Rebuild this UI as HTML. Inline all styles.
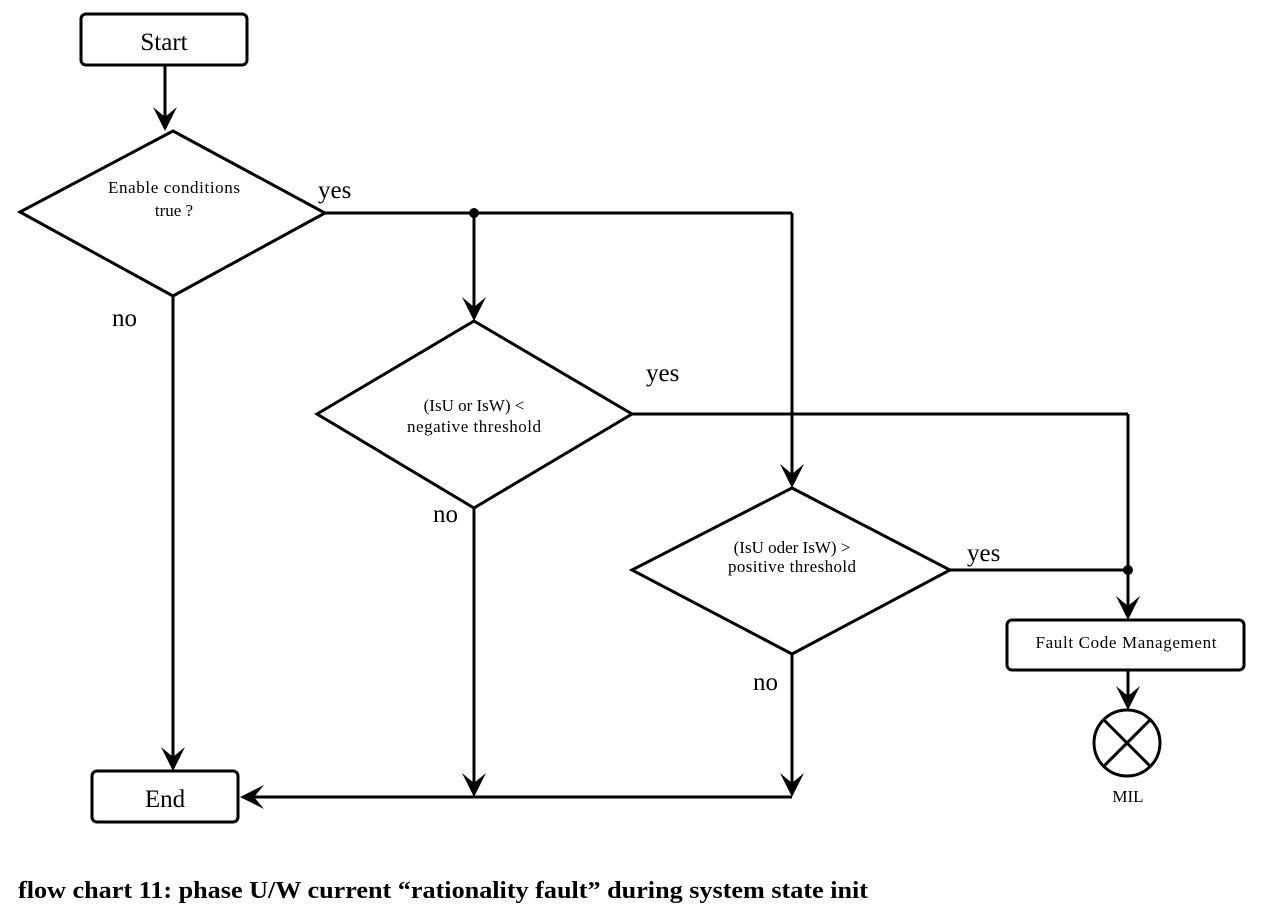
<!DOCTYPE html>
<html><head><meta charset="utf-8"><style>
html,body{margin:0;padding:0;background:#fff;}
svg{display:block;}
text{font-family:"Liberation Serif",serif;fill:#000;}
</style></head><body>
<svg width="1264" height="924" viewBox="0 0 1264 924" xmlns="http://www.w3.org/2000/svg">
<defs>
<g id="ad"><path d="M0,0 L-12,-24 L0,-14 L12,-24 Z" fill="#000"/></g>
</defs>
<g stroke="#000" stroke-width="3" fill="none">
<rect x="81" y="14" width="166" height="51" rx="5"/>
<rect x="92" y="771" width="146" height="51" rx="5"/>
<rect x="1007" y="620" width="237" height="50" rx="5"/>
<polygon points="20,212 173,131 325,213 173,296"/>
<polygon points="317,414 474,321 632,414 474,508"/>
<polygon points="632,570 792,488 950,570 792,654"/>
<line x1="165" y1="65" x2="165" y2="120"/>
<line x1="325" y1="213" x2="792" y2="213"/>
<line x1="474" y1="213" x2="474" y2="310"/>
<line x1="792" y1="213" x2="792" y2="477"/>
<line x1="632" y1="414" x2="1128" y2="414"/>
<line x1="1128" y1="414" x2="1128" y2="610"/>
<line x1="950" y1="570" x2="1128" y2="570"/>
<line x1="1128" y1="670" x2="1128" y2="700"/>
<circle cx="1127" cy="743" r="33"/>
<line x1="1104" y1="720" x2="1150" y2="766"/>
<line x1="1150" y1="720" x2="1104" y2="766"/>
<line x1="173" y1="296" x2="173" y2="760"/>
<line x1="474" y1="508" x2="474" y2="786"/>
<line x1="792" y1="654" x2="792" y2="786"/>
<line x1="792" y1="797" x2="250" y2="797"/>
</g>
<circle cx="474" cy="213" r="5" fill="#000"/>
<circle cx="1128" cy="570" r="5" fill="#000"/>
<use href="#ad" transform="translate(165,131)"/>
<use href="#ad" transform="translate(474,321)"/>
<use href="#ad" transform="translate(792,488)"/>
<use href="#ad" transform="translate(1128,620)"/>
<use href="#ad" transform="translate(1128,710)"/>
<use href="#ad" transform="translate(173,771)"/>
<use href="#ad" transform="translate(474,797)"/>
<use href="#ad" transform="translate(792,797)"/>
<use href="#ad" transform="translate(240,797) rotate(90)"/>
<text x="164" y="50" font-size="25" text-anchor="middle">Start</text>
<text x="165" y="807" font-size="25" text-anchor="middle">End</text>
<text x="174" y="193" font-size="17" text-anchor="middle" textLength="132">Enable conditions</text>
<text x="174" y="216" font-size="17" text-anchor="middle">true ?</text>
<text x="474" y="411" font-size="17" text-anchor="middle">(IsU or IsW) &lt;</text>
<text x="474" y="432" font-size="17" text-anchor="middle" textLength="134">negative threshold</text>
<text x="792" y="553" font-size="17" text-anchor="middle">(IsU oder IsW) &gt;</text>
<text x="792" y="572" font-size="17" text-anchor="middle" textLength="128">positive threshold</text>
<text x="1126" y="648" font-size="17" text-anchor="middle" textLength="181">Fault Code Management</text>
<text x="1128" y="802" font-size="17" text-anchor="middle">MIL</text>
<text x="318" y="198" font-size="25">yes</text>
<text x="112" y="326" font-size="25">no</text>
<text x="646" y="381" font-size="25">yes</text>
<text x="433" y="522" font-size="25">no</text>
<text x="967" y="561" font-size="25">yes</text>
<text x="753" y="690" font-size="25">no</text>
<text x="18" y="898" font-size="24" font-weight="bold" textLength="850" lengthAdjust="spacingAndGlyphs">flow chart 11: phase U/W current “rationality fault” during system state init</text>
</svg>
</body></html>
